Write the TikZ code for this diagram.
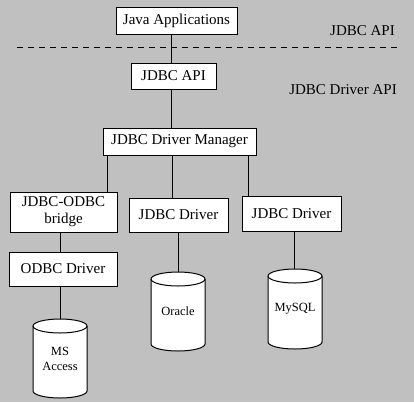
\documentclass[tikz,border=0pt]{standalone}
\usepackage{fontspec}
\setmainfont{Liberation Serif}
\definecolor{bggray}{RGB}{192,192,192}
\newcommand\dbcylinder[3]{%
  \draw[fill=white, line width=1pt] (#1-27,#2-7) -- (#1-27,#3+7)
    arc[start angle=180,end angle=360,x radius=27pt,y radius=7pt]
    -- (#1+27,#2-7)
    arc[start angle=0,end angle=180,x radius=27pt,y radius=7pt] -- cycle;
  \draw[line width=1pt] (#1-27,#2-7) arc[start angle=180,end angle=360,x radius=27pt,y radius=7pt];}
\begin{document}
\begin{tikzpicture}[x=1pt,y=1pt,
  box/.style={draw, fill=white, line width=1pt, inner sep=0pt, align=center,
    font=\fontsize{15}{17}\selectfont},
  dbtext/.style={inner sep=0pt, minimum width=54pt, align=center,
    font=\fontsize{12.5}{15}\selectfont},
  lbl/.style={inner sep=0pt, font=\fontsize{15}{17}\selectfont},
  conn/.style={line width=1pt}]
\useasboundingbox (0,0) rectangle (414,-402);
\fill[bggray] (0,0) rectangle (414,-402);
% dashed separator
\coordinate (dl) at (17,-47);
\coordinate (dr) at (400,-47);
\draw[line width=1pt, dash pattern=on 6pt off 5pt] (dl) -- (dr);
% labels
\node[lbl, anchor=east] (lapi) at (395,-31) {JDBC API};
\node[lbl, anchor=east] (ldrv) at (397,-90) {JDBC Driver API};
% boxes
\node[box, minimum width=121pt, minimum height=27pt] (java) at (176.5,-20.5) {Java Applications};
\node[box, minimum width=85pt, minimum height=26pt] (api) at (173.5,-76) {JDBC API};
\node[box, minimum width=153pt, minimum height=27pt] (manager) at (179.5,-141.5) {JDBC Driver Manager};
\node[box, minimum width=107pt, minimum height=40pt] (bridge) at (63.5,-212) {JDBC-ODBC\\bridge};
\node[box, minimum width=99pt, minimum height=34pt] (drv1) at (178.5,-215) {JDBC Driver};
\node[box, minimum width=99pt, minimum height=35pt] (drv2) at (291.5,-213.5) {JDBC Driver};
\node[box, minimum width=108pt, minimum height=34pt] (odbc) at (63,-269) {ODBC Driver};
% databases
\dbcylinder{178}{-272}{-351}
\dbcylinder{295}{-269}{-349}
\dbcylinder{60}{-319}{-398}
\node[dbtext, minimum height=79pt] (oracle) at (178,-311.5) {Oracle};
\node[dbtext, minimum height=80pt] (mysql) at (295,-309) {MySQL};
\node[dbtext, minimum height=79pt] (access) at (60,-358.5) {MS\\Access};
% connector columns
\coordinate (cA) at (171,0);
\coordinate (cB) at (107,0);
\coordinate (cC) at (172,0);
\coordinate (cD) at (248,0);
\coordinate (cE) at (60,0);
\coordinate (cF) at (178,0);
\coordinate (cG) at (294,0);
\draw[conn] (java.south -| cA) -- (api.north -| cA);
\draw[conn] (api.south -| cA) -- (manager.north -| cA);
\draw[conn] (manager.south -| cB) -- (bridge.north -| cB);
\draw[conn] (manager.south -| cC) -- (drv1.north -| cC);
\draw[conn] (manager.south -| cD) -- (drv2.north -| cD);
\draw[conn] (bridge.south -| cE) -- (odbc.north -| cE);
\draw[conn] (odbc.south -| cE) -- (access.north -| cE);
\draw[conn] (drv1.south -| cF) -- (oracle.north -| cF);
\draw[conn] (drv2.south -| cG) -- (mysql.north -| cG);
\end{tikzpicture}
\end{document}
